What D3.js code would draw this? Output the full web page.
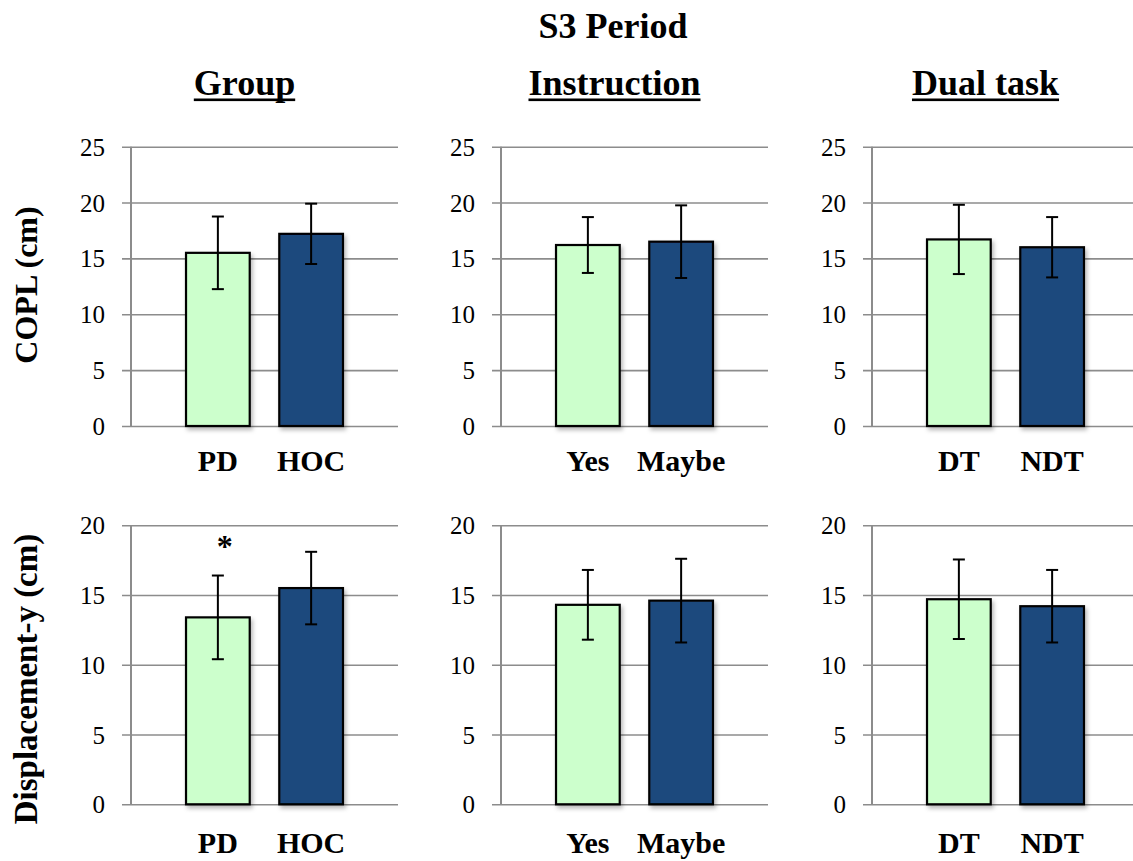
<!DOCTYPE html>
<html>
<head>
<meta charset="utf-8">
<script src="https://cdn.jsdelivr.net/npm/d3@7"></script>
<style>
  html, body { margin: 0; padding: 0; background: #fff; }
  svg { display: block; }
</style>
</head>
<body>
<svg id="chart" width="1133" height="861"></svg>
<script>
// ---- Data ----
const mainTitle = "S3 Period";
const panelTitles = ["Group", "Instruction", "Dual task"];
const panelCategories = [["PD", "HOC"], ["Yes", "Maybe"], ["DT", "NDT"]];
const rowLabels = ["COPL (cm)", "Displacement-y (cm)"];

// COPL means and error half-widths per panel
const coplMeans = [[15.5, 17.2], [16.2, 16.5], [16.7, 16.0]];
const coplErrors = [[3.25, 2.7], [2.5, 3.25], [3.1, 2.7]];

// Displacement-y means and error half-widths per panel
const dispMeans = [[13.4, 15.5], [14.3, 14.6], [14.7, 14.2]];
const dispErrors = [[3.0, 2.6], [2.5, 3.0], [2.85, 2.6]];

// Significance marks drawn above bars
const dispMarks = [["*", ""], ["", ""], ["", ""]];
const coplMarks = [["", ""], ["", ""], ["", ""]];

const coplTicks = [0, 5, 10, 15, 20, 25];
const dispTicks = [0, 5, 10, 15, 20];

const barColors = ["#ccffcc", "#1f497d"];

// ---- Layout ----
const svg = d3.select("#chart");
const serif = "'Liberation Serif', 'Times New Roman', serif";

const defs = svg.append("defs");
const shadow = defs.append("filter").attr("id", "barShadow")
  .attr("x", "-20%").attr("y", "-20%").attr("width", "140%").attr("height", "140%");
shadow.append("feDropShadow")
  .attr("dx", 2).attr("dy", 3).attr("stdDeviation", 2)
  .attr("flood-color", "#000").attr("flood-opacity", 0.28);

const panelX = [[131, 398], [501, 768], [872, 1139]];
const rows = [
  { label: rowLabels[0], means: coplMeans, errors: coplErrors, marks: coplMarks,
    ticks: coplTicks, yRange: [426, 146.7], catY: 471, labelY: 285, labelSize: 32 },
  { label: rowLabels[1], means: dispMeans, errors: dispErrors, marks: dispMarks,
    ticks: dispTicks, yRange: [804.3, 525.3], catY: 853, labelY: 679, labelSize: 33 }
];

// Main title
svg.append("text")
  .attr("x", 613).attr("y", 38)
  .attr("text-anchor", "middle")
  .style("font-family", serif).style("font-weight", "bold").style("font-size", "36px")
  .text(mainTitle);

// Column titles (underlined)
panelTitles.forEach((t, i) => {
  const cx = (panelX[i][0] + panelX[i][1]) / 2 - 20;
  const txt = svg.append("text")
    .attr("x", cx).attr("y", 95)
    .attr("text-anchor", "middle")
    .style("font-family", serif).style("font-weight", "bold").style("font-size", "36px")
    .text(t);
  const bb = txt.node().getBBox();
  svg.append("rect")
    .attr("x", bb.x).attr("y", 98.5)
    .attr("width", bb.width).attr("height", 2.6)
    .attr("fill", "#000");
});

rows.forEach((row) => {
  const yMax = d3.max(row.ticks);
  const y = d3.scaleLinear().domain([0, yMax]).range(row.yRange);

  // Row label (rotated)
  svg.append("text")
    .attr("transform", `translate(37,${row.labelY}) rotate(-90)`)
    .attr("text-anchor", "middle")
    .style("font-family", serif).style("font-weight", "bold")
    .style("font-size", row.labelSize + "px")
    .text(row.label);

  panelCategories.forEach((cats, p) => {
    const [x0, x1] = panelX[p];
    const x = d3.scaleBand().domain(cats).range([x0, x1])
      .paddingInner(0.317).paddingOuter(0.59);

    const g = svg.append("g");

    // Horizontal gridlines with left tick marks
    const yAxis = d3.axisLeft(y).tickValues(row.ticks)
      .tickSize(-(x1 - x0)).tickPadding(0).tickFormat(d3.format("d"));
    const ax = g.append("g").attr("transform", `translate(${x0},0)`).call(yAxis);
    ax.select(".domain").remove();
    ax.selectAll(".tick line")
      .attr("x1", -9)
      .attr("stroke", "#8c8c8c").attr("stroke-width", 1.6);
    ax.selectAll(".tick text")
      .attr("x", -26).attr("dy", "0.34em")
      .attr("fill", "#000")
      .style("font-family", serif).style("font-size", "25px");

    // Vertical axis line
    g.append("line")
      .attr("x1", x0).attr("x2", x0)
      .attr("y1", y(yMax)).attr("y2", y(0))
      .attr("stroke", "#8c8c8c").attr("stroke-width", 2);

    const data = cats.map((c, i) => ({
      cat: c, mean: row.means[p][i], err: row.errors[p][i],
      mark: row.marks[p][i], color: barColors[i]
    }));

    // Bars
    g.selectAll("rect.bar").data(data).join("rect")
      .attr("class", "bar")
      .attr("x", d => x(d.cat))
      .attr("width", x.bandwidth())
      .attr("y", d => y(d.mean))
      .attr("height", d => y(0) - y(d.mean))
      .attr("fill", d => d.color)
      .attr("stroke", "#000").attr("stroke-width", 2.2)
      .attr("filter", "url(#barShadow)");

    // Error bars
    const cap = 6;
    const eb = g.selectAll("g.err").data(data).join("g").attr("class", "err");
    eb.append("line")
      .attr("x1", d => x(d.cat) + x.bandwidth() / 2)
      .attr("x2", d => x(d.cat) + x.bandwidth() / 2)
      .attr("y1", d => y(d.mean + d.err))
      .attr("y2", d => y(d.mean - d.err));
    eb.append("line")
      .attr("x1", d => x(d.cat) + x.bandwidth() / 2 - cap)
      .attr("x2", d => x(d.cat) + x.bandwidth() / 2 + cap)
      .attr("y1", d => y(d.mean + d.err))
      .attr("y2", d => y(d.mean + d.err));
    eb.append("line")
      .attr("x1", d => x(d.cat) + x.bandwidth() / 2 - cap)
      .attr("x2", d => x(d.cat) + x.bandwidth() / 2 + cap)
      .attr("y1", d => y(d.mean - d.err))
      .attr("y2", d => y(d.mean - d.err));
    eb.selectAll("line").attr("stroke", "#000").attr("stroke-width", 2);

    // Significance marks
    g.selectAll("text.mark").data(data.filter(d => d.mark)).join("text")
      .attr("class", "mark")
      .attr("x", d => x(d.cat) + x.bandwidth() / 2 + 7)
      .attr("y", d => y(d.mean + d.err) - 19)
      .attr("text-anchor", "middle")
      .style("font-family", serif).style("font-weight", "bold").style("font-size", "32px")
      .text(d => d.mark);

    // Category labels
    g.selectAll("text.cat").data(data).join("text")
      .attr("class", "cat")
      .attr("x", d => x(d.cat) + x.bandwidth() / 2)
      .attr("y", row.catY)
      .attr("text-anchor", "middle")
      .style("font-family", serif).style("font-weight", "bold").style("font-size", "30px")
      .text(d => d.cat);
  });
});
</script>
</body>
</html>
